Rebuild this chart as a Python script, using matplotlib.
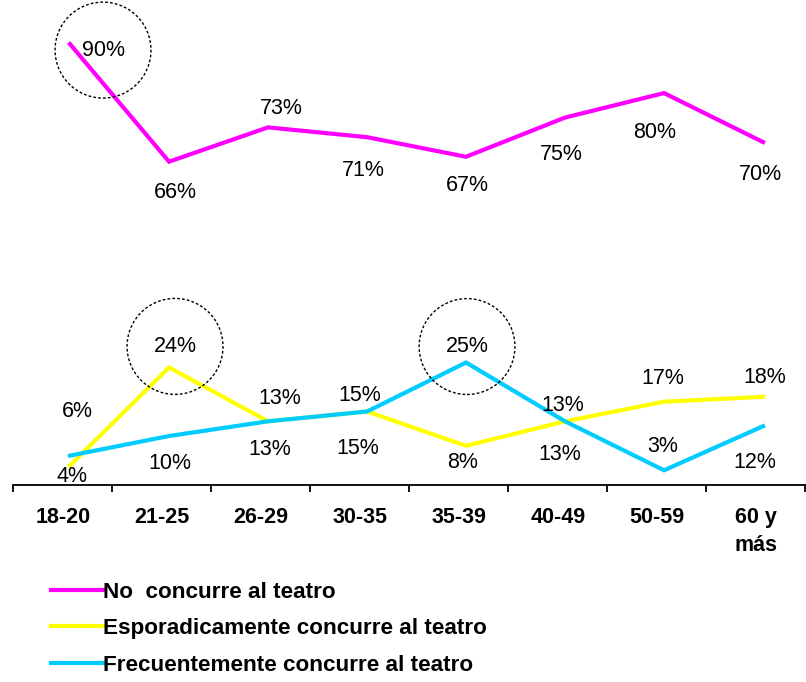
import matplotlib.pyplot as plt
import numpy as np

plt.rcParams['font.family'] = ['Liberation Sans', 'DejaVu Sans']

# data
age_groups = ['18-20', '21-25', '26-29', '30-35', '35-39', '40-49', '50-59',
              '60 y\nmás']
no_concurre = [90, 66, 73, 71, 67, 75, 80, 70]
esporadico = [4, 24, 13, 15, 8, 13, 17, 18]
frecuente = [6, 10, 13, 15, 25, 13, 3, 12]
series_names = ['No  concurre al teatro',
                'Esporadicamente concurre al teatro',
                'Frecuentemente concurre al teatro']

# label offsets from each point, in pixels (dx, dy up)
pink_offsets = [(33, -6), (6, -31), (13, 19), (-4, -33), (1, -29),
                (-4, -37), (-9, -39), (-3, -32)]
yellow_offsets = [(2, -11), (6, 21), (12, 23), (-7, 16), (-3, -17),
                  (-2, 16), (-1, 23), (2, 19)]
cyan_offsets = [(7, 44), (1, -27), (2, -28), (-9, -37), (1, 16),
                (-5, -33), (-1, 24), (-8, -36)]


def draw_series(ax, x, values, color, name, offsets, circled=None):
    """Draws one line with its percentage labels."""
    ax.plot(x, values, color=color, lw=3, label=name, clip_on=False,
            solid_joinstyle='miter')
    for i, (v, off) in enumerate(zip(values, offsets)):
        bbox = None
        if i == circled:
            bbox = dict(boxstyle='circle,pad=1.23', fc='none', ec='black',
                        lw=1.0, ls=(0, (2, 1.5)))
        ax.annotate(f'{v}%', (x[i], v), xytext=off,
                    textcoords='offset pixels', ha='center', va='center',
                    fontsize=15.5, color='black', bbox=bbox)


def teatro_graph() -> None:
    fig = plt.figure(figsize=(8.06, 6.82), dpi=100)
    ax = fig.add_axes([13 / 806, 1 - 485 / 682, 793 / 806, 485 / 682])
    x = np.arange(len(age_groups))

    draw_series(ax, x, no_concurre, '#ff00ff', series_names[0],
                pink_offsets, circled=0)
    draw_series(ax, x, esporadico, '#ffff00', series_names[1],
                yellow_offsets, circled=1)
    draw_series(ax, x, frecuente, '#00ccff', series_names[2],
                cyan_offsets, circled=4)

    ax.set_xlim(-0.576, 7.434)
    ax.set_ylim(0, 99)

    for side in ['top', 'right', 'left']:
        ax.spines[side].set_visible(False)
    ax.spines['bottom'].set_linewidth(1.3)
    ax.set_yticks([])

    ax.set_xticks(np.arange(len(age_groups) + 1) - 0.576)
    ax.set_xticklabels([])
    ax.tick_params(axis='x', which='major', direction='out', length=5,
                   width=1.3)
    ax.set_xticks(x - 0.07, minor=True)
    ax.set_xticklabels(age_groups, minor=True, fontsize=15.5,
                       fontweight='bold', linespacing=1.45)
    ax.tick_params(axis='x', which='minor', length=0, pad=15.5)

    fig.legend(loc='upper left', bbox_to_anchor=(51 / 806, 1 - 582 / 682),
               frameon=False, prop=dict(size=16.2, weight='bold'),
               handlelength=2.3, handletextpad=0.0, labelspacing=0.68,
               borderpad=0, borderaxespad=0)

    fig.savefig('out.png', dpi=100)


if __name__ == "__main__":
    teatro_graph()
